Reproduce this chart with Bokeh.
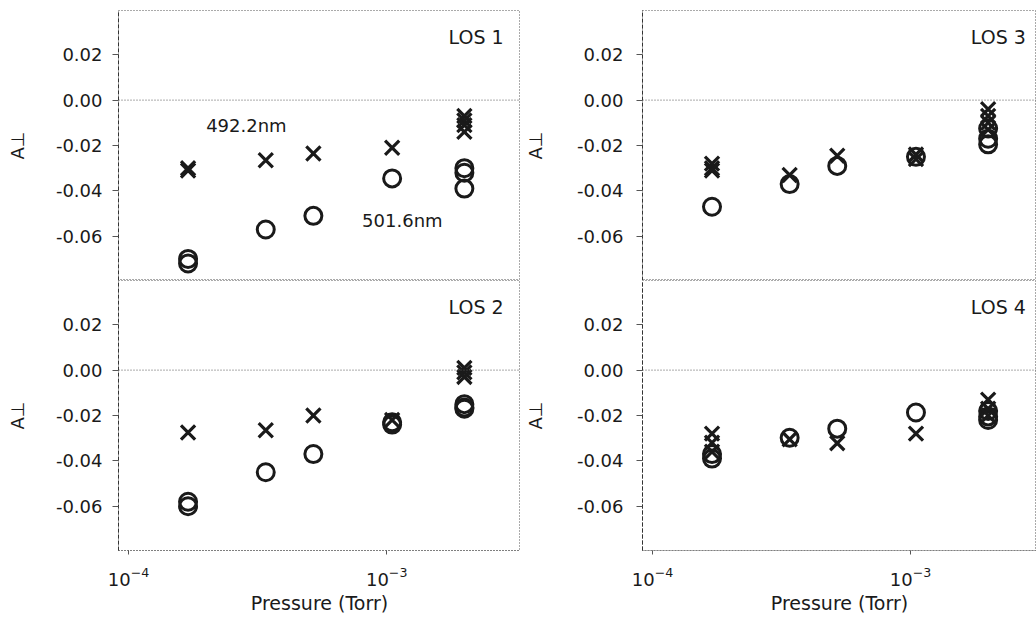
from bokeh.plotting import figure
from bokeh.layouts import gridplot
from bokeh.models import Range1d, FixedTicker, NumeralTickFormatter, Span, Label
from bokeh.embed import file_html
from bokeh.resources import INLINE

# ---- data (pressure in Torr, alignment values) ----
los1_cross_p = [1.7e-4, 1.7e-4, 3.4e-4, 5.2e-4, 1.05e-3, 2.0e-3, 2.0e-3, 2.0e-3, 2.0e-3]
los1_cross_v = [-0.030, -0.031, -0.0265, -0.0235, -0.021, -0.007, -0.009, -0.011, -0.014]
los1_circ_p = [1.7e-4, 1.7e-4, 3.4e-4, 5.2e-4, 1.05e-3, 2.0e-3, 2.0e-3, 2.0e-3]
los1_circ_v = [-0.070, -0.072, -0.057, -0.051, -0.0345, -0.030, -0.032, -0.039]

los2_cross_p = [1.7e-4, 3.4e-4, 5.2e-4, 1.05e-3, 2.0e-3, 2.0e-3, 2.0e-3]
los2_cross_v = [-0.0275, -0.0265, -0.020, -0.022, 0.001, -0.001, -0.003]
los2_circ_p = [1.7e-4, 1.7e-4, 3.4e-4, 5.2e-4, 1.05e-3, 1.05e-3, 2.0e-3, 2.0e-3, 2.0e-3]
los2_circ_v = [-0.058, -0.060, -0.045, -0.037, -0.023, -0.024, -0.015, -0.0165, -0.017]

los3_cross_p = [1.7e-4, 1.7e-4, 1.7e-4, 3.4e-4, 5.2e-4, 1.05e-3, 1.05e-3, 2.0e-3, 2.0e-3, 2.0e-3, 2.0e-3]
los3_cross_v = [-0.028, -0.030, -0.031, -0.033, -0.0245, -0.024, -0.026, -0.004, -0.007, -0.010, -0.013]
los3_circ_p = [1.7e-4, 3.4e-4, 5.2e-4, 1.05e-3, 2.0e-3, 2.0e-3, 2.0e-3]
los3_circ_v = [-0.047, -0.037, -0.029, -0.025, -0.0125, -0.017, -0.0195]

los4_cross_p = [1.7e-4, 1.7e-4, 1.7e-4, 3.4e-4, 5.2e-4, 1.05e-3, 2.0e-3, 2.0e-3, 2.0e-3]
los4_cross_v = [-0.028, -0.032, -0.036, -0.0305, -0.0322, -0.028, -0.013, -0.017, -0.020]
los4_circ_p = [1.7e-4, 1.7e-4, 3.4e-4, 5.2e-4, 1.05e-3, 2.0e-3, 2.0e-3, 2.0e-3]
los4_circ_v = [-0.037, -0.039, -0.0298, -0.0258, -0.0187, -0.018, -0.0204, -0.022]

panel_names = ["LOS 1", "LOS 2", "LOS 3", "LOS 4"]
y_ticks = [-0.06, -0.04, -0.02, 0.0, 0.02]
x_ticks = [1e-4, 1e-3]
line_labels = ["492.2nm", "501.6nm"]
line_label_p = [2.86e-4, 1.15e-3]
line_label_v = [-0.0114, -0.053]
x_title = "Pressure (Torr)"
y_title = "A\u22a5"

FONT = "DejaVu Sans"
INK = "#1a1a1a"


def make_panel(name, cp, cv, op, ov, col, bottom):
    left_border = 118 if col == 0 else 122
    width = 520 if col == 0 else 516
    x_end = 3.30e-3 if col == 0 else 3.08e-3
    p = figure(
        width=width,
        height=341 if bottom else 280,
        x_axis_type="log",
        x_range=Range1d(9.14e-5, x_end),
        y_range=Range1d(-0.0795, 0.0395),
        output_backend="svg",
        toolbar_location=None,
        x_axis_location="below" if bottom else None,
        min_border_left=left_border,
        min_border_right=0,
        min_border_top=0 if bottom else 10,
        min_border_bottom=71 if bottom else 0,
    )
    p.grid.visible = False
    p.outline_line_color = "#555555"
    p.outline_line_dash = "1 2"
    p.outline_line_width = 1
    p.background_fill_color = "white"
    p.border_fill_color = "white"

    ya = p.yaxis[0]
    ya.ticker = FixedTicker(ticks=y_ticks, minor_ticks=[])
    ya.formatter = NumeralTickFormatter(format="0.00")
    ya.major_label_text_font = FONT
    ya.major_label_text_font_size = "18px"
    ya.major_label_text_color = INK
    ya.major_tick_out = 6
    ya.major_tick_in = 0
    ya.major_tick_line_color = "#555555"
    ya.major_label_standoff = 10 if col == 0 else 13
    ya.axis_line_color = "#333333"
    ya.axis_line_dash = "4 2"
    ya.minor_tick_line_color = None
    ya.axis_label = y_title
    ya.axis_label_text_font = FONT
    ya.axis_label_text_font_size = "18px"
    ya.axis_label_text_font_style = "normal"
    ya.axis_label_text_color = INK
    ya.axis_label_standoff = 25 if col == 0 else 28

    if bottom:
        xa = p.xaxis[0]
        xa.ticker = FixedTicker(ticks=x_ticks, minor_ticks=[])
        xa.major_label_text_font = FONT
        xa.major_label_text_font_size = "18px"
        xa.major_label_text_color = INK
        xa.major_tick_out = 4
        xa.major_tick_in = 0
        xa.major_tick_line_color = "#555555"
        xa.major_label_standoff = 12
        xa.axis_line_color = "#555555"
        xa.axis_line_dash = "1 2"
        xa.minor_tick_line_color = None
        xa.axis_label = x_title
        xa.axis_label_text_font = FONT
        xa.axis_label_text_font_size = "19px"
        xa.axis_label_text_font_style = "normal"
        xa.axis_label_text_color = INK
        xa.axis_label_standoff = 3

    p.add_layout(Span(location=0, dimension="width", line_color="#555555",
                      line_dash="1 2", line_width=1))

    p.scatter(op, ov, marker="circle", size=17, fill_color=None,
              line_color=INK, line_width=3)
    p.scatter(cp, cv, marker="x", size=20, line_color=INK, line_width=3.2)

    p.add_layout(Label(x=2.84e-3 if col == 0 else 2.80e-3, y=0.028, text=name,
                       text_align="right", text_baseline="middle",
                       text_font=FONT, text_font_size="19px", text_color=INK))
    return p


p1 = make_panel(panel_names[0], los1_cross_p, los1_cross_v, los1_circ_p, los1_circ_v, 0, False)
p2 = make_panel(panel_names[1], los2_cross_p, los2_cross_v, los2_circ_p, los2_circ_v, 0, True)
p3 = make_panel(panel_names[2], los3_cross_p, los3_cross_v, los3_circ_p, los3_circ_v, 1, False)
p4 = make_panel(panel_names[3], los4_cross_p, los4_cross_v, los4_circ_p, los4_circ_v, 1, True)

for txt, lp, lv in zip(line_labels, line_label_p, line_label_v):
    p1.add_layout(Label(x=lp, y=lv, text=txt, text_align="center",
                        text_baseline="middle", text_font=FONT,
                        text_font_size="18px", text_color=INK))

grid = gridplot([[p1, p3], [p2, p4]], toolbar_location=None)

open("out.html", "w").write(file_html(grid, INLINE))
